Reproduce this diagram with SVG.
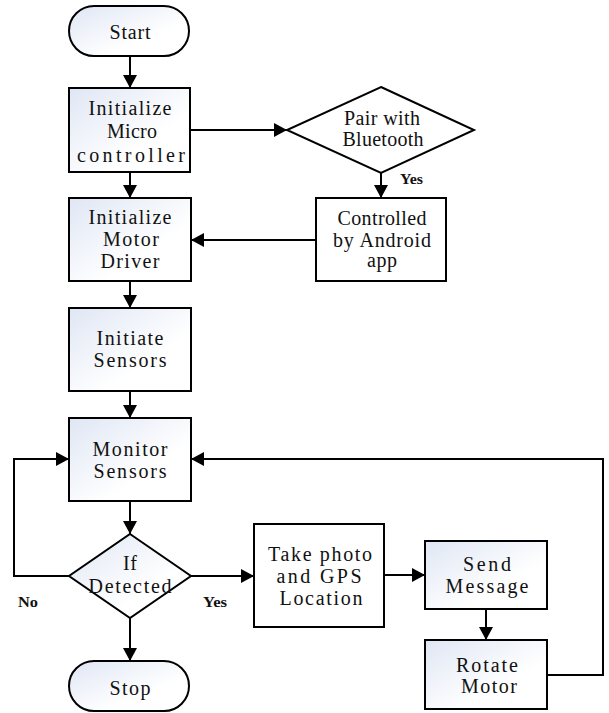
<svg xmlns="http://www.w3.org/2000/svg" width="609" height="713" viewBox="0 0 609 713">
  <defs>
    <linearGradient id="shade" x1="0" y1="0" x2="1" y2="1">
      <stop offset="0" stop-color="#dfe6f4"/>
      <stop offset="0.65" stop-color="#ffffff"/>
    </linearGradient>
    <marker id="arrow" markerUnits="userSpaceOnUse" markerWidth="14" markerHeight="14" refX="13" refY="7" orient="auto">
      <path d="M0,0 L13,7 L0,14 z" fill="#000"/>
    </marker>
    <style>
      .box { stroke: #000; stroke-width: 2; }
      .shaded { fill: url(#shade); }
      .plain { fill: #fff; }
      .lbl { font-family: "Liberation Serif", "Times New Roman", serif; font-size: 20px; fill: #111; text-anchor: middle; }
      .tag { font-family: "Liberation Serif", "Times New Roman", serif; font-size: 14px; font-weight: bold; fill: #111; }
      .conn { fill: none; stroke: #000; stroke-width: 2; marker-end: url(#arrow); }
    </style>
  </defs>
  <rect width="609" height="713" fill="#fff"/>

  <!-- connectors -->
  <g id="connectors">
    <line class="conn" x1="130" y1="56" x2="130" y2="88"/>
    <line class="conn" x1="190" y1="130" x2="287" y2="130"/>
    <line class="conn" x1="381" y1="173" x2="381" y2="198"/>
    <line class="conn" x1="316" y1="240" x2="191" y2="240"/>
    <line class="conn" x1="130" y1="172" x2="130" y2="198"/>
    <line class="conn" x1="130" y1="281" x2="130" y2="308"/>
    <line class="conn" x1="130" y1="391" x2="130" y2="418"/>
    <line class="conn" x1="130" y1="501" x2="130" y2="534"/>
    <line class="conn" x1="130" y1="618" x2="130" y2="661"/>
    <line class="conn" x1="191" y1="576" x2="254" y2="576"/>
    <line class="conn" x1="384" y1="575" x2="425" y2="575"/>
    <line class="conn" x1="486" y1="609" x2="486" y2="640"/>
    <polyline class="conn" points="547,675 603,675 603,459 191,459"/>
    <polyline class="conn" points="69,576 14,576 14,459 69,459"/>
    <text class="tag" x="400" y="184" textLength="23" lengthAdjust="spacingAndGlyphs">Yes</text>
    <text class="tag" x="18" y="607" textLength="20" lengthAdjust="spacingAndGlyphs">No</text>
    <text class="tag" x="203" y="607" textLength="24" lengthAdjust="spacingAndGlyphs">Yes</text>
  </g>

  <g id="start">
    <rect class="box shaded" x="69" y="6" width="120" height="50" rx="25" ry="25"/>
    <text class="lbl" x="130" y="39" textLength="41">Start</text>
  </g>

  <g id="init-micro">
    <rect class="box shaded" x="69" y="88" width="121" height="84"/>
    <text class="lbl" x="130" y="115" textLength="83">Initialize</text>
    <text class="lbl" x="132" y="138" textLength="50">Micro</text>
    <text class="lbl" x="131" y="162" textLength="108">controller</text>
  </g>

  <g id="pair-bluetooth">
    <polygon class="box plain" points="381,87 474,130 381,173 287,130"/>
    <text class="lbl" x="382" y="125" textLength="76">Pair with</text>
    <text class="lbl" x="383" y="146" textLength="81">Bluetooth</text>
  </g>

  <g id="android-app">
    <rect class="box plain" x="316" y="198" width="130" height="83"/>
    <text class="lbl" x="382" y="225" textLength="89">Controlled</text>
    <text class="lbl" x="382" y="247" textLength="98">by Android</text>
    <text class="lbl" x="382" y="267" textLength="30">app</text>
  </g>

  <g id="init-motor">
    <rect class="box shaded" x="69" y="198" width="122" height="83"/>
    <text class="lbl" x="130" y="224" textLength="83">Initialize</text>
    <text class="lbl" x="131" y="246" textLength="56">Motor</text>
    <text class="lbl" x="130" y="268" textLength="59">Driver</text>
  </g>

  <g id="init-sensors">
    <rect class="box shaded" x="69" y="308" width="122" height="83"/>
    <text class="lbl" x="130" y="345" textLength="67">Initiate</text>
    <text class="lbl" x="130" y="367" textLength="73">Sensors</text>
  </g>

  <g id="monitor">
    <rect class="box shaded" x="69" y="418" width="122" height="83"/>
    <text class="lbl" x="130" y="456" textLength="75">Monitor</text>
    <text class="lbl" x="130" y="478" textLength="73">Sensors</text>
  </g>

  <g id="detected">
    <polygon class="box shaded" points="130,534 191,576 130,618 69,576"/>
    <text class="lbl" x="130" y="570" textLength="14">If</text>
    <text class="lbl" x="130" y="593" textLength="83">Detected</text>
  </g>

  <g id="stop">
    <rect class="box shaded" x="69" y="661" width="120" height="50" rx="25" ry="25"/>
    <text class="lbl" x="130" y="695" textLength="41">Stop</text>
  </g>

  <g id="photo-gps">
    <rect class="box plain" x="254" y="524" width="130" height="103"/>
    <text class="lbl" x="320" y="561" textLength="104">Take photo</text>
    <text class="lbl" x="319" y="583" textLength="85">and GPS</text>
    <text class="lbl" x="321" y="605" textLength="83">Location</text>
  </g>

  <g id="send-message">
    <rect class="box shaded" x="425" y="541" width="122" height="68"/>
    <text class="lbl" x="487" y="571" textLength="48">Send</text>
    <text class="lbl" x="487" y="593" textLength="83">Message</text>
  </g>

  <g id="rotate-motor">
    <rect class="box shaded" x="425" y="640" width="122" height="69"/>
    <text class="lbl" x="487" y="672" textLength="62">Rotate</text>
    <text class="lbl" x="489" y="693" textLength="56">Motor</text>
  </g>
</svg>
